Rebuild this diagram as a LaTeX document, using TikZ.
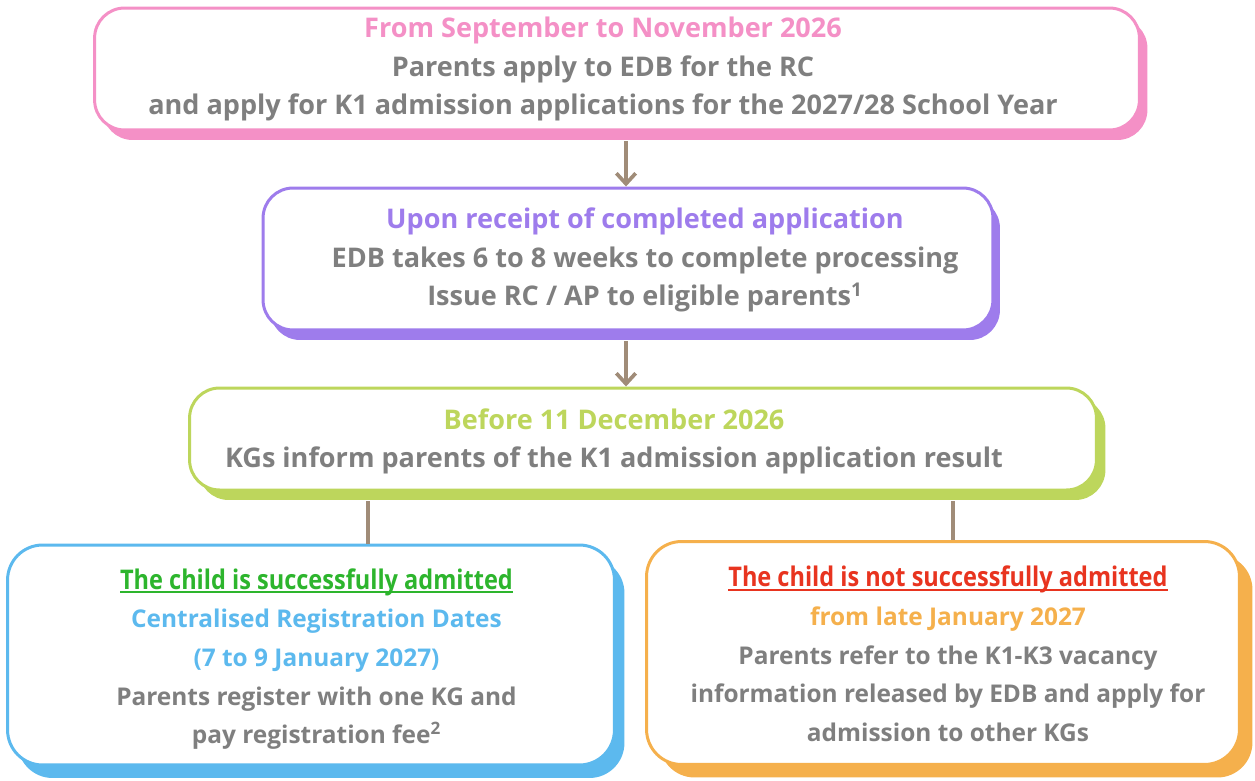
\documentclass[tikz,border=0pt]{standalone}
\usepackage{fontspec}
\setmainfont{Open Sans}
\usetikzlibrary{arrows.meta, shadows, positioning}

\definecolor{greytxt}{HTML}{7F7F7F}
\definecolor{pinkc}{HTML}{F490C6}
\definecolor{purplec}{HTML}{9E7CEC}
\definecolor{limec}{HTML}{BDD65C}
\definecolor{bluec}{HTML}{5CB9EE}
\definecolor{orangec}{HTML}{F5B04C}
\definecolor{linkc}{HTML}{A08C78}
\definecolor{okc}{HTML}{2DB52D}
\definecolor{failc}{HTML}{E8341F}

% underlined outcome heading, a bit condensed
\newcommand{\outcome}[1]{{\fontsize{15.4}{22}\selectfont\addfontfeature{FakeStretch=0.87}%
  \setbox0\hbox{#1}\rlap{\rule[-2.4pt]{\wd0}{1.1pt}}\box0}}

\begin{document}
\begin{tikzpicture}[x=0.02cm, y=-0.02cm,
                    font=\bfseries\fontsize{15.4}{21.8}\selectfont]
  \tikzstyle{stage} = [draw, rectangle, rounded corners=0.6cm, line width=1.7pt,
                       fill=white]
  \tikzstyle{stagetext} = [text=greytxt, align=center]
  \tikzstyle{smalltext} = [stagetext, font=\bfseries\fontsize{13.9}{22}\selectfont]
  \tikzstyle{pinkbox} = [stage, draw=pinkc,
                         drop shadow={shadow xshift=0.16cm, shadow yshift=-0.2cm, fill=pinkc, opacity=1}]
  \tikzstyle{purplebox} = [stage, draw=purplec,
                           drop shadow={shadow xshift=0.14cm, shadow yshift=-0.2cm, fill=purplec, opacity=1}]
  \tikzstyle{limebox} = [stage, draw=limec,
                         drop shadow={shadow xshift=0.18cm, shadow yshift=-0.2cm, fill=limec, opacity=1}]
  \tikzstyle{bluebox} = [stage, draw=bluec, rounded corners=0.7cm,
                         drop shadow={shadow xshift=0.2cm, shadow yshift=-0.26cm, fill=bluec, opacity=1}]
  \tikzstyle{orangebox} = [stage, draw=orangec, rounded corners=0.7cm,
                           drop shadow={shadow xshift=0.26cm, shadow yshift=-0.26cm, fill=orangec, opacity=1}]
  \tikzstyle{link} = [draw=linkc, line width=2.1pt]

  \useasboundingbox (0,0) rectangle (1255,781);

  % boxes
  \node [pinkbox, minimum width=20.9cm, minimum height=2.44cm] (apply) at (617,69) {};
  \node [purplebox, minimum width=14.6cm, minimum height=2.84cm] (process) at (628,259) {};
  \node [limebox, minimum width=18.14cm, minimum height=2.04cm] (result) at (643,439) {};
  \node [bluebox, minimum width=12.14cm, minimum height=4.4cm] (admitted) at (311,655) {};
  \node [orangebox, minimum width=11.86cm, minimum height=4.46cm] (notadmitted) at (943,653) {};

  % texts
  \node [stagetext] (applytext) at (603,69)
    {\textcolor{pinkc}{From September to November 2026}\\
     Parents apply to EDB for the RC\\
     and apply for K1 admission applications for the 2027/28 School Year};
  \node [stagetext] (processtext) at (645,260)
    {\textcolor{purplec}{Upon receipt of completed application}\\
     EDB takes 6 to 8 weeks to complete processing\\
     Issue RC / AP to eligible parents\textsuperscript{1}};
  \node [stagetext] (resulttext) at (614,441.5)
    {\textcolor{limec}{Before 11 December 2026}\\
     KGs inform parents of the K1 admission application result};
  \node [smalltext] (admittedtext) at (316.5,659)
    {\textcolor{okc}{\outcome{The child is successfully admitted}}\\
     \textcolor{bluec}{Centralised Registration Dates}\\
     \textcolor{bluec}{(7 to 9 January 2027)}\\
     Parents register with one KG and\\
     pay registration fee\textsuperscript{2}};
  \node [smalltext] (notadmittedtext) at (948,654)
    {\textcolor{failc}{\outcome{The child is not successfully admitted}}\\
     \textcolor{orangec}{from late January 2027}\\
     Parents refer to the K1-K3 vacancy\\
     information released by EDB and apply for\\
     admission to other KGs};

  % connectors
  \draw [link, -{Straight Barb[length=6pt, width=11pt]}, shorten <=0.2cm]
    (apply.south -| 626,0) -- (process.north -| 626,0);
  \draw [link, -{Straight Barb[length=6pt, width=11pt]}, shorten <=0.2cm]
    (process.south -| 626,0) -- (result.north -| 626,0);
  \draw [link, shorten <=0.2cm] (result.south -| 368,0) -- (admitted.north -| 368,0);
  \draw [link, shorten <=0.2cm] (result.south -| 953,0) -- (notadmitted.north -| 953,0);
\end{tikzpicture}
\end{document}
